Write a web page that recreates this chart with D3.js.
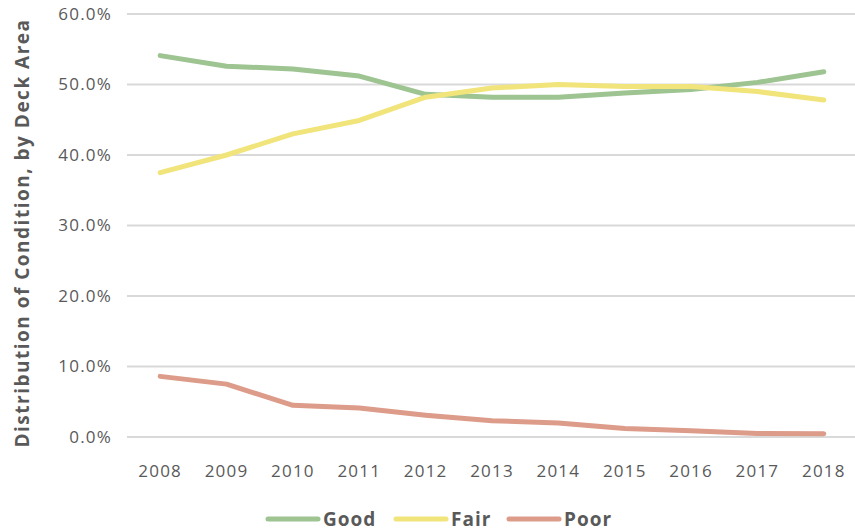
<!DOCTYPE html>
<html><head><meta charset="utf-8">
<script src="https://cdn.jsdelivr.net/npm/d3@7"></script>
<style>body{margin:0;background:#fff}svg{display:block}</style>
</head><body><svg id="c" width="855" height="531"></svg>
<script>
const years = ["2008","2009","2010","2011","2012","2013","2014","2015","2016","2017","2018"];
const good = [54.1,52.6,52.2,51.2,48.6,48.2,48.2,48.8,49.3,50.3,51.8];
const fair = [37.5,40.0,43.0,44.9,48.2,49.5,50.0,49.7,49.7,49.0,47.8];
const poor = [8.6,7.5,4.5,4.1,3.1,2.3,2.0,1.2,0.9,0.5,0.45];
const yTicks = [0,10,20,30,40,50,60];
const seriesNames = ["Good","Fair","Poor"];
const seriesColors = ["#9dc491","#f0e47a","#dd9b8a"];
const seriesData = [good, fair, poor];

const svg = d3.select("#c");
const font = "'Open Sans', 'Noto Sans', sans-serif";
const x = d3.scaleBand().domain(years).range([127, 857]);
const y = d3.scaleLinear().domain([0,60]).range([437, 14]);

svg.append("g").selectAll("line").data(yTicks).join("line")
  .attr("x1",127).attr("x2",855)
  .attr("y1",d=>y(d)).attr("y2",d=>y(d))
  .attr("stroke","#d9d9d9").attr("stroke-width",2);

const yAxis = d3.axisLeft(y).tickValues(yTicks).tickFormat(d=>d.toFixed(1)+"%").tickSize(0).tickPadding(0);
const gy = svg.append("g").attr("transform","translate(112,0)").call(yAxis);
gy.select(".domain").remove();
gy.selectAll("text").attr("font-family",font).attr("font-size",17).attr("letter-spacing","1.2px").attr("fill","#595959");

const xAxis = d3.axisBottom(x).tickSize(0).tickPadding(0);
const gx = svg.append("g").attr("transform","translate(0,465)").call(xAxis);
gx.select(".domain").remove();
gx.selectAll("text").attr("font-family",font).attr("font-size",17).attr("letter-spacing","1.2px").attr("fill","#595959");

const line = d3.line().x((d,i)=>x(years[i])+x.bandwidth()/2).y(d=>y(d));
seriesData.forEach((s,k)=>{
  svg.append("path").datum(s).attr("d",line)
    .attr("fill","none").attr("stroke",seriesColors[k]).attr("stroke-width",5)
    .attr("stroke-linecap","round").attr("stroke-linejoin","round");
});

svg.append("text").attr("transform","translate(29,233) rotate(-90)")
  .attr("text-anchor","middle").attr("font-family",font).attr("font-weight","bold")
  .attr("font-size",19).attr("letter-spacing","1.5px").attr("fill","#595959")
  .text("Distribution of Condition, by Deck Area");

const legX = [268, 396, 509];
seriesNames.forEach((n,k)=>{
  const g = svg.append("g").attr("transform",`translate(${legX[k]},519)`);
  g.append("line").attr("x1",0).attr("x2",50).attr("y1",0).attr("y2",0)
    .attr("stroke",seriesColors[k]).attr("stroke-width",5).attr("stroke-linecap","round");
  g.append("text").attr("x",55).attr("y",7).attr("font-family",font).attr("font-weight","bold")
    .attr("font-size",19).attr("letter-spacing","1px").attr("fill","#595959").text(n);
});
</script></body></html>
